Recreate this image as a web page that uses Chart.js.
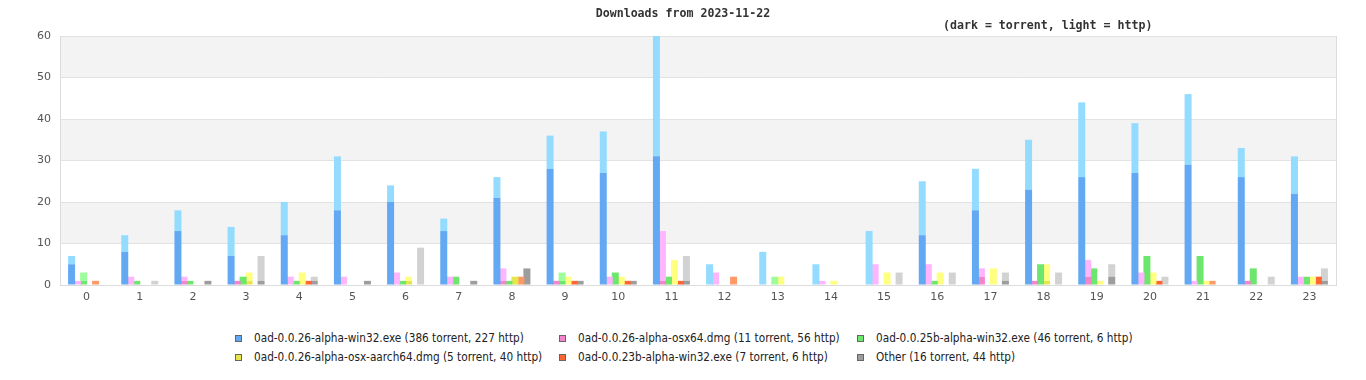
<!DOCTYPE html>
<html><head><meta charset="utf-8">
<script src="https://cdn.jsdelivr.net/npm/chart.js@4"></script>
<style>
html,body{margin:0;padding:0;background:#fff;width:1366px;height:380px;overflow:hidden}
#wrap{position:relative;width:1366px;height:380px}
#c{position:absolute;left:0;top:0}
.ttl{position:absolute;font-family:"DejaVu Sans Mono",monospace;font-weight:bold;font-size:11.6px;line-height:14px;color:#333;white-space:nowrap}
.leg{position:absolute;font-family:"DejaVu Sans Condensed","DejaVu Sans",sans-serif;font-stretch:condensed;font-size:11.7px;line-height:13px;color:#222;white-space:nowrap}
.box{position:absolute;width:5px;height:5px;border:1px solid #666}
</style></head>
<body><div id="wrap">
<canvas id="c" width="1366" height="310"></canvas>
<div class="ttl" id="t1" style="left:0;width:1366px;text-align:center;top:6px">Downloads from 2023-11-22</div>
<div class="ttl" id="t2" style="left:943px;top:18px">(dark = torrent, light = http)</div>
<div id="legend"></div>
</div>
<script>
const hours = ['0','1','2','3','4','5','6','7','8','9','10','11','12','13','14','15','16','17','18','19','20','21','22','23'];
const fileNames = ['0ad-0.0.26-alpha-win32.exe','0ad-0.0.26-alpha-osx64.dmg','0ad-0.0.25b-alpha-win32.exe','0ad-0.0.26-alpha-osx-aarch64.dmg','0ad-0.0.23b-alpha-win32.exe','Other'];
const yTicks = [0,10,20,30,40,50,60];

const win32Torrent   = [5,8,13,7,12,18,20,13,21,28,27,31,0,0,0,0,12,18,23,26,27,29,26,22];
const win32Http      = [2,4,5,7,8,13,4,3,5,8,10,29,5,8,5,13,13,10,12,18,12,17,7,9];
const osx64Torrent   = [0,0,1,1,0,0,0,0,1,1,0,1,0,0,0,0,0,2,1,2,0,0,1,0];
const osx64Http      = [1,2,1,0,2,2,3,2,3,0,2,12,3,0,1,5,5,2,0,4,3,1,0,2];
const win32bTorrent  = [1,1,1,2,1,0,1,2,1,1,3,2,0,0,0,0,1,0,5,4,7,7,4,2];
const win32bHttp     = [2,0,0,0,0,0,0,0,0,2,0,0,0,2,0,0,0,0,0,0,0,0,0,0];
const aarch64Torrent = [0,0,0,1,0,0,1,0,2,0,0,0,0,0,0,0,0,0,1,0,0,0,0,0];
const aarch64Http    = [0,0,0,2,3,0,1,0,0,2,2,6,0,2,1,3,3,4,4,1,3,1,0,2];
const win23bTorrent  = [0,0,0,0,1,0,0,0,0,1,1,1,0,0,0,0,0,0,0,0,1,0,0,2];
const win23bHttp     = [1,0,0,0,0,0,0,0,2,0,0,0,2,0,0,0,0,0,0,0,0,1,0,0];
const otherTorrent   = [0,0,1,1,1,1,0,1,4,1,1,1,0,0,0,0,0,1,0,2,0,0,0,1];
const otherHttp      = [0,1,0,6,1,0,9,0,0,0,0,6,0,0,0,3,3,2,3,3,2,0,2,3];

const torrentSeries = [win32Torrent, osx64Torrent, win32bTorrent, aarch64Torrent, win23bTorrent, otherTorrent];
const httpSeries    = [win32Http, osx64Http, win32bHttp, aarch64Http, win23bHttp, otherHttp];
const darkColors  = ['#62a8f2','#f285cc','#6ce66c','#e6e64c','#ff6633','#9d9d9d'];
const lightColors = ['#93dcff','#ffb5fd','#9dfd9d','#ffff80','#ff9966','#d2d2d2'];

const sum = a => a.reduce((s,v)=>s+v,0);
const datasets = [];
fileNames.forEach((name,i)=>{
  datasets.push({label:name+' torrent', data:torrentSeries[i], backgroundColor:darkColors[i], stack:'s'+i});
  datasets.push({label:name+' http', data:httpSeries[i], backgroundColor:lightColors[i], stack:'s'+i});
});

const bands = {
  id:'bands',
  beforeDraw(chart){
    const {ctx, chartArea:a, scales:{y}} = chart;
    ctx.save();
    ctx.fillStyle = '#f3f3f3';
    for (let k=0;k<yTicks.length-1;k++){
      if (k%2===1){
        const y1 = y.getPixelForValue(yTicks[k+1]), y0 = y.getPixelForValue(yTicks[k]);
        ctx.fillRect(a.left, y1, a.right-a.left, y0-y1);
      }
    }
    ctx.restore();
  },
  afterDraw(chart){
    const {ctx, chartArea:a} = chart;
    ctx.save();
    ctx.strokeStyle = '#dcdcdc'; ctx.lineWidth = 1;
    ctx.beginPath();
    ctx.moveTo(Math.round(a.right)+0.5, a.top); ctx.lineTo(Math.round(a.right)+0.5, a.bottom);
    ctx.stroke();
    ctx.restore();
  }
};

new Chart(document.getElementById('c'), {
  type:'bar',
  data:{labels:hours, datasets},
  plugins:[bands],
  options:{
    responsive:false, animation:false,
    layout:{padding:{top:36,right:30,left:0,bottom:0}},
    plugins:{legend:{display:false}, tooltip:{enabled:false}, title:{display:false}},
    datasets:{bar:{categoryPercentage:0.677, barPercentage:1.167, borderWidth:0}},
    scales:{
      x:{stacked:true,
         grid:{display:false, drawTicks:false},
         border:{display:true, color:'#dcdcdc'},
         ticks:{color:'#545454', font:{family:'DejaVu Sans', size:11}, padding:6},
         afterFit(s){ s.height = 25; }},
      y:{stacked:true, min:0, max:60,
         grid:{color:'#e2e2e2', drawTicks:false},
         border:{display:true, color:'#dcdcdc'},
         ticks:{stepSize:10, color:'#545454', font:{family:'DejaVu Sans', size:11}, padding:9},
         afterFit(s){ s.width = 60; }}
    }
  }
});

// legend
const legCols = [235,559,857], legRows = [335,354];
const leg = document.getElementById('legend');
fileNames.forEach((name,i)=>{
  const x = legCols[i%3], y = legRows[Math.floor(i/3)];
  const b = document.createElement('div');
  b.className='box'; b.style.left=x+'px'; b.style.top=y+'px'; b.style.background=darkColors[i];
  leg.appendChild(b);
  const t = document.createElement('div');
  t.className='leg'; t.style.left=(x+19)+'px'; t.style.top=(y-3)+'px';
  t.textContent = name+' ('+sum(torrentSeries[i])+' torrent, '+sum(httpSeries[i])+' http)';
  leg.appendChild(t);
});
</script>
</body></html>
